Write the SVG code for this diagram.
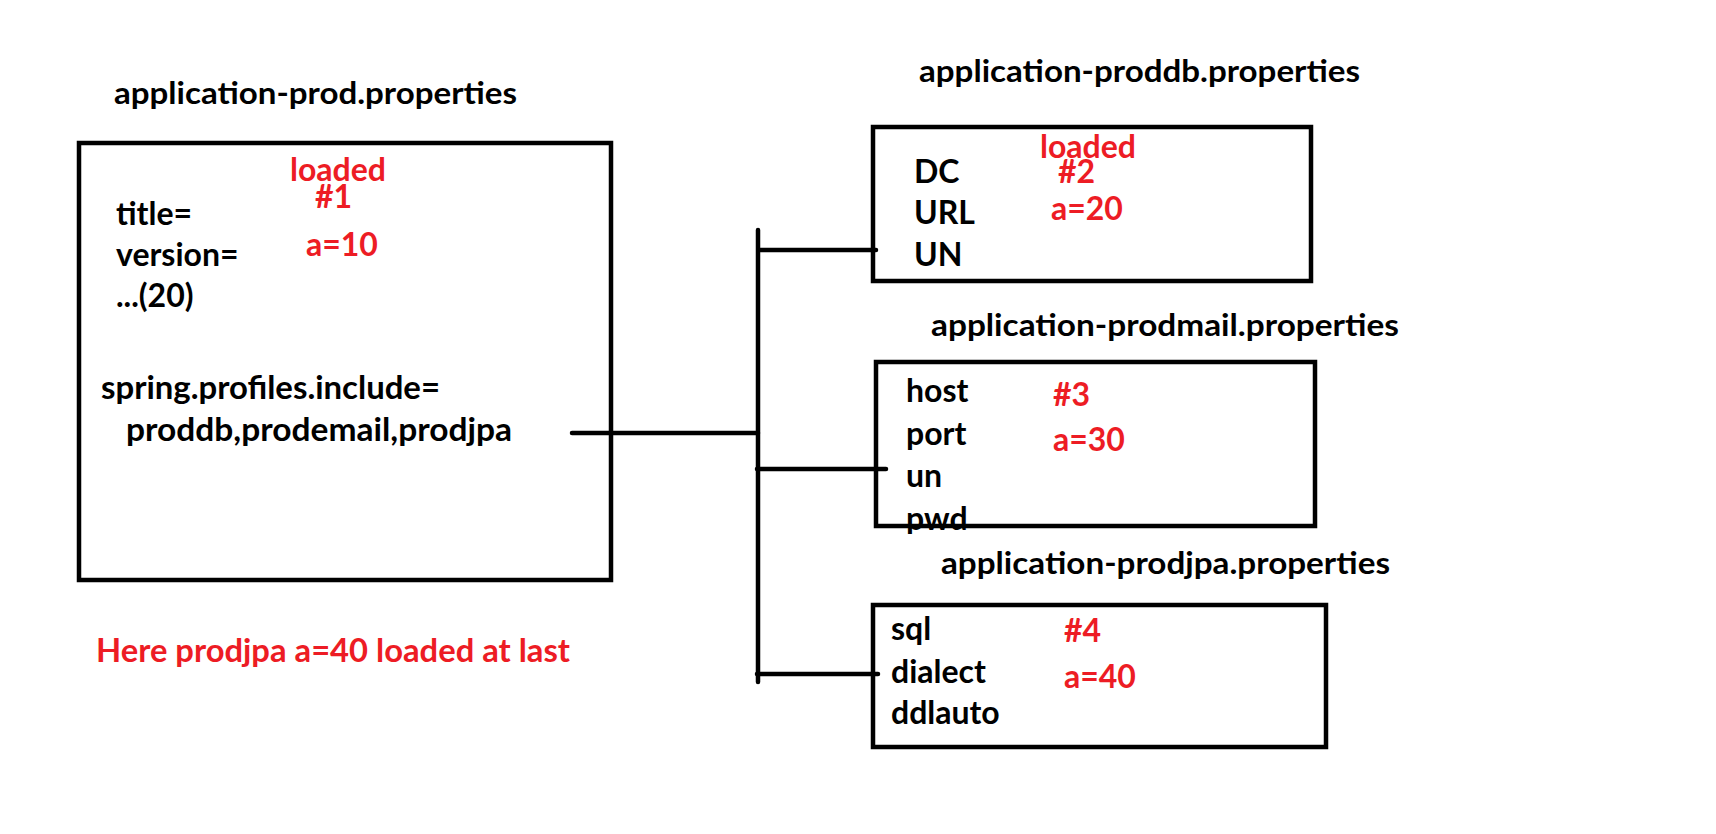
<svg xmlns="http://www.w3.org/2000/svg" width="1716" height="834" viewBox="0 0 1716 834">
<style>
  .box { fill: none; stroke: #000; stroke-width: 4.5; }
  .wire { fill: none; stroke: #000; stroke-width: 4.5; stroke-linecap: round; }
  .t { font-family: Lato, "Open Sans", sans-serif; font-weight: bold; font-size: 32px; fill: #000; }
  .h { font-family: Lato, "Open Sans", sans-serif; font-weight: bold; font-size: 30px; fill: #000; }
  .r { font-family: Lato, "Open Sans", sans-serif; font-weight: bold; font-size: 32px; fill: #ED1C24; }
</style>
<defs>
  <clipPath id="clipPwd"><rect x="880" y="500" width="200" height="34"/></clipPath>
</defs>
<rect width="1716" height="834" fill="#fff"/>

<g id="connectors">
  <line class="wire" x1="572" y1="433" x2="758" y2="433"/>
  <line class="wire" x1="758" y1="230" x2="758" y2="682"/>
  <line class="wire" x1="760" y1="250" x2="876" y2="250"/>
  <line class="wire" x1="757" y1="469" x2="886" y2="469"/>
  <line class="wire" x1="757" y1="674" x2="878" y2="674"/>
</g>

<g id="node-prod">
  <text class="h" x="114" y="104" textLength="403" lengthAdjust="spacingAndGlyphs">application-prod.properties</text>
  <rect class="box" x="79" y="143" width="532" height="437"/>
  <text class="r" x="290" y="181">loaded</text>
  <text class="r" x="315" y="208">#1</text>
  <text class="t" x="116" y="225">title=</text>
  <text class="r" x="306" y="256">a=10</text>
  <text class="t" x="116" y="266">version=</text>
  <text class="t" x="116" y="307">...(20)</text>
  <text class="t" x="101" y="399" textLength="339" lengthAdjust="spacingAndGlyphs">spring.profiles.include=</text>
  <text class="t" x="126" y="441" textLength="386" lengthAdjust="spacingAndGlyphs">proddb,prodemail,prodjpa</text>
</g>

<g id="node-proddb">
  <text class="h" x="919" y="82" textLength="441" lengthAdjust="spacingAndGlyphs">application-proddb.properties</text>
  <rect class="box" x="873" y="127" width="438" height="154"/>
  <text class="r" x="1040" y="158">loaded</text>
  <text class="t" x="914" y="183">DC</text>
  <text class="r" x="1058" y="183">#2</text>
  <text class="r" x="1051" y="220">a=20</text>
  <text class="t" x="914" y="224">URL</text>
  <text class="t" x="914" y="266">UN</text>
</g>

<g id="node-prodmail">
  <text class="h" x="931" y="336" textLength="468" lengthAdjust="spacingAndGlyphs">application-prodmail.properties</text>
  <rect class="box" x="876" y="362" width="439" height="164"/>
  <text class="t" x="906" y="402">host</text>
  <text class="r" x="1053" y="406">#3</text>
  <text class="t" x="906" y="445">port</text>
  <text class="r" x="1053" y="451">a=30</text>
  <text class="t" x="906" y="487">un</text>
  <text class="t" x="906" y="530" clip-path="url(#clipPwd)">pwd</text>
</g>

<g id="node-prodjpa">
  <text class="h" x="941" y="574" textLength="449" lengthAdjust="spacingAndGlyphs">application-prodjpa.properties</text>
  <rect class="box" x="873" y="605" width="453" height="142"/>
  <text class="t" x="891" y="640">sql</text>
  <text class="r" x="1064" y="642">#4</text>
  <text class="t" x="891" y="683">dialect</text>
  <text class="r" x="1064" y="688">a=40</text>
  <text class="t" x="891" y="724">ddlauto</text>
</g>

<g id="note">
  <text class="r" x="96" y="662" textLength="474" lengthAdjust="spacingAndGlyphs">Here prodjpa a=40 loaded at last</text>
</g>
</svg>
